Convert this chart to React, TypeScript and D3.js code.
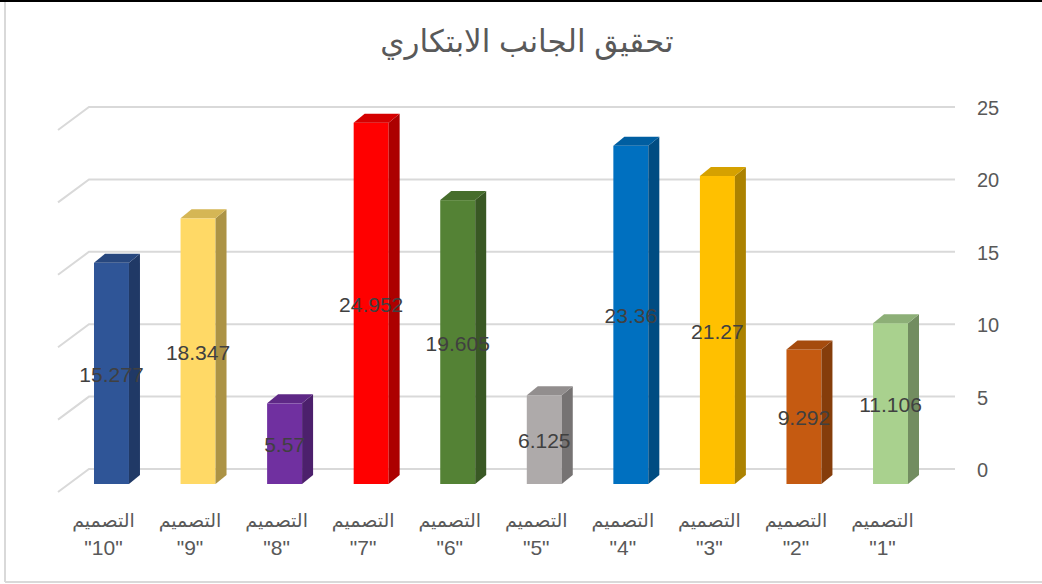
import React from "react";
import * as d3 from "d3";

const designs = ["1", "2", "3", "4", "5", "6", "7", "8", "9", "10"];
const values = [11.106, 9.292, 21.27, 23.36, 6.125, 19.605, 24.952, 5.57, 18.347, 15.277];
const valueLabels = ["11.106", "9.292", "21.27", "23.36", "6.125", "19.605", "24.952", "5.57", "18.347", "15.277"];
const frontColors = ["#A9D18E", "#C55A11", "#FFC000", "#0070C0", "#AEAAAA", "#548235", "#FF0000", "#7030A0", "#FFD966", "#2F5597"];
const yTicks = [0, 5, 10, 15, 20, 25];
const title = "تحقيق الجانب الابتكاري";
const catWord = "التصميم";

const W = 1042;
const H = 584;

export default function App() {
  const order = designs.slice().reverse();
  const x = d3
    .scaleBand<string>()
    .domain(order)
    .range([68.2, 933.8])
    .paddingInner(0.596)
    .paddingOuter(0.298);
  const y = d3.scaleLinear().domain([0, 25]).range([484, 484 - 25 * 14.48]);
  const wallOff = -15;
  const depthX = 11;
  const depthY = -9;
  const bw = x.bandwidth();
  const gridX0 = 89;
  const gridX1 = 955;
  const sideDX = -31;
  const sideDY = 23;

  const sansFont = "'Liberation Sans', Arial, 'DejaVu Sans', sans-serif";

  return (
    <svg
      width={W}
      height={H}
      style={{ position: "absolute", left: 0, top: 0, background: "#fff" }}
    >
      <rect x={0} y={0} width={W} height={H} fill="#fff" />
      <line x1={0} y1={1} x2={W} y2={1} stroke="#000" strokeWidth={2} />
      <line x1={5} y1={2} x2={5} y2={582} stroke="#d9d9d9" strokeWidth={2} />
      <line x1={5} y1={582} x2={W} y2={582} stroke="#d9d9d9" strokeWidth={2} />

      <text
        x={527}
        y={52}
        textAnchor="middle"
        fontSize={31}
        fill="#595959"
        fontFamily={sansFont}
      >
        {title}
      </text>

      {yTicks.map((t) => {
        const gy = y(t) + wallOff;
        return (
          <g key={t}>
            <polyline
              points={`${gridX0 + sideDX},${gy + sideDY} ${gridX0},${gy} ${gridX1},${gy}`}
              fill="none"
              stroke="#d9d9d9"
              strokeWidth={2}
            />
            <text
              x={977}
              y={gy + 1}
              dominantBaseline="central"
              fontSize={20}
              fill="#595959"
              fontFamily={sansFont}
            >
              {t}
            </text>
          </g>
        );
      })}

      {designs.map((d, i) => {
        const x0 = x(d) as number;
        const yt = y(values[i]);
        const yb = y(0);
        const c = d3.color(frontColors[i]) as d3.RGBColor;
        const side = c.darker(1.1).formatHex();
        const top = c.darker(0.5).formatHex();
        return (
          <g key={d}>
            <rect x={x0} y={yt} width={bw} height={yb - yt} fill={frontColors[i]} />
            <polygon
              points={`${x0 + bw},${yt} ${x0 + bw + depthX},${yt + depthY} ${x0 + bw + depthX},${yb + depthY} ${x0 + bw},${yb}`}
              fill={side}
            />
            <polygon
              points={`${x0},${yt} ${x0 + bw},${yt} ${x0 + bw + depthX},${yt + depthY} ${x0 + depthX},${yt + depthY}`}
              fill={top}
            />
          </g>
        );
      })}

      {designs.map((d, i) => {
        const x0 = x(d) as number;
        const cy = (y(values[i]) + y(0)) / 2;
        return (
          <text
            key={d}
            x={x0 + bw / 2}
            y={cy + 1}
            dominantBaseline="central"
            textAnchor="middle"
            fontSize={21}
            fill="#404040"
            fontFamily={sansFont}
          >
            {valueLabels[i]}
          </text>
        );
      })}

      {designs.map((d) => {
        const cx = (x(d) as number) + bw / 2 - 8;
        return (
          <g key={d}>
            <text
              x={cx}
              y={527}
              textAnchor="middle"
              fontSize={19}
              fill="#595959"
              fontFamily={sansFont}
            >
              {catWord}
            </text>
            <text
              x={cx}
              y={555}
              textAnchor="middle"
              fontSize={21}
              fill="#595959"
              fontFamily={sansFont}
            >
              {`"${d}"`}
            </text>
          </g>
        );
      })}
    </svg>
  );
}
